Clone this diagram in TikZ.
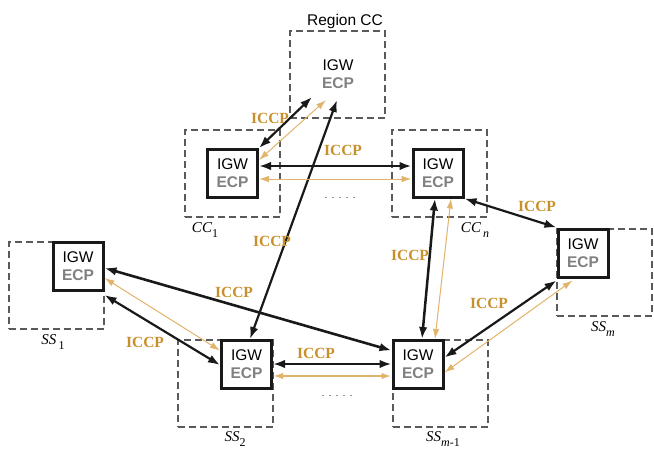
\documentclass[tikz,border=0pt]{standalone}
\usepackage{fontspec}
\setmainfont{Liberation Sans}
\newfontfamily\serifx{Liberation Serif}
\usetikzlibrary{arrows.meta,calc}
\definecolor{iccptext}{HTML}{C8902C}
\definecolor{iccpline}{HTML}{E2B36A}
\definecolor{ecpgray}{HTML}{808080}
\definecolor{dashgray}{HTML}{5A5A5A}
\tikzset{
  gw/.style={draw=black!90,line width=3pt,fill=white,minimum width=50pt,minimum height=48pt,inner sep=0pt,align=center,font=\fontsize{15.5}{19}\selectfont},
  gwfree/.style={minimum width=50pt,minimum height=48pt,inner sep=0pt,align=center,font=\fontsize{15.5}{19}\selectfont},
  region/.style={draw=dashgray,line width=2pt,dash pattern=on 7pt off 4pt,minimum width=95pt,minimum height=87pt,inner sep=0pt},
  blk/.style={line width=2.2pt,black!90,{Latex[length=12pt,width=8.5pt]}-{Latex[length=12pt,width=8.5pt]}},
  org/.style={line width=1pt,iccpline,{Latex[length=10pt,width=6.5pt]}-{Latex[length=10pt,width=6.5pt]}},
  iccp/.style={text=iccptext,font=\serifx\bfseries\fontsize{15.5}{18}\selectfont,inner sep=1pt},
  lbl/.style={font=\serifx\itshape\fontsize{15}{18}\selectfont,inner sep=0pt},
  dotsx/.style={font=\fontsize{9}{10}\selectfont,inner sep=0pt}
}
\newcommand{\gwtext}{IGW\\[-1pt]\textcolor{ecpgray}{\bfseries ECP}}
\begin{document}
\begin{tikzpicture}[x=1pt,y=-1pt]
\useasboundingbox (0,0) rectangle (654,451);
% dashed regions
\node[region] (rccreg) at (337.5,74.5) {};
\node[region] (cc1reg) at (232.5,173.5) {};
\node[region] (ccnreg) at (439.5,173.5) {};
\node[region] (ssmreg) at (604.5,272) {};
\node[region] (ss1reg) at (56.5,285) {};
\node[region] (ss2reg) at (225.5,383) {};
\node[region] (ssm1reg) at (440.5,383.5) {};
% region CC
\node[font=\fontsize{15.5}{18}\selectfont] (rcclabel) at (345,21) {Region CC};
\node[gwfree] (rcc) at (338,74) {\gwtext};
% gateway boxes
\node[gw] (cc1) at (232.5,173.5) {\gwtext};
\node[gw] (ccn) at (438,173) {\gwtext};
\node[gw] (ssm) at (583,253) {\gwtext};
\node[gw] (ss1) at (78,266) {\gwtext};
\node[gw] (ss2) at (246.5,364.5) {\gwtext};
\node[gw] (ssm1) at (418,364.5) {\gwtext};
% labels
\node[lbl] (lcc1) at (205,230) {CC\raisebox{-0.3em}{\upshape\fontsize{12}{12}\selectfont 1}};
\node[lbl] (lccn) at (475,230) {CC\raisebox{-0.3em}{\fontsize{12}{12}\selectfont\,n}};
\node[lbl] (lss1) at (53,342) {SS\raisebox{-0.3em}{\upshape\fontsize{12}{12}\selectfont\,1}};
\node[lbl] (lss2) at (235,439) {SS\raisebox{-0.3em}{\upshape\fontsize{12}{12}\selectfont 2}};
\node[lbl] (lssm1) at (443,439) {SS\raisebox{-0.3em}{\fontsize{12}{12}\selectfont m\upshape -1}};
\node[lbl] (lssm) at (603,329) {SS\raisebox{-0.3em}{\fontsize{12}{12}\selectfont m}};
\node[dotsx] (dots1) at (340,198) {.\hspace{4.5pt}.\hspace{4.5pt}.\hspace{4.5pt}.\hspace{4.5pt}.};
\node[dotsx] (dots2) at (337,396) {.\hspace{4.5pt}.\hspace{4.5pt}.\hspace{4.5pt}.\hspace{4.5pt}.};
% connectors
\draw[blk] (cc1.north east) -- ($(rcc.center)+(-26,23)$);
\draw[org] ($(cc1.north east)+(0,12)$) -- ($(rcc.center)+(-12,26)$);
\draw[blk] ($(ss2.north west)+(30,0)$) -- ($(rcc.center)+(-1,26)$);
\draw[blk] ($(cc1.east)+(0,-7.5)$) -- ($(ccn.west)+(0,-7)$);
\draw[org] ($(cc1.east)+(0,5.5)$) -- ($(ccn.west)+(0,6)$);
\draw[blk,line width=2.5pt] ($(ccn.south)+(-3,0)$) -- ($(ssm1.north)+(4,0)$);
\draw[org] ($(ccn.south)+(13,0)$) -- ($(ssm1.north)+(17,0)$);
\draw[blk] (ccn.south east) -- (ssm.north west);
\draw[blk] ($(ssm1.east)+(0,-7)$) -- ($(ssm.south west)+(0,2)$);
\draw[org] ($(ssm1.east)+(0,8)$) -- ($(ssm.south west)+(16,2)$);
\draw[blk,line width=2.6pt] ($(ss1.east)+(0,2)$) -- ($(ssm1.west)+(0,-14)$);
\draw[blk] ($(ss1.east)+(0,29)$) -- ($(ss2.west)+(0,0.5)$);
\draw[org] ($(ss1.east)+(0,12)$) -- ($(ss2.west)+(0,-14)$);
\draw[blk] ($(ss2.east)+(0,-0.5)$) -- ($(ssm1.west)+(0,-0.5)$);
\draw[org,line width=2pt] ($(ss2.east)+(0,11.5)$) -- ($(ssm1.west)+(0,11.5)$);
% ICCP labels
\node[iccp] (i1) at (270,118) {ICCP};
\node[iccp] (i2) at (343,150) {ICCP};
\node[iccp] (i3) at (272,241) {ICCP};
\node[iccp] (i4) at (410,255) {ICCP};
\node[iccp] (i5) at (537,206) {ICCP};
\node[iccp] (i6) at (489,303) {ICCP};
\node[iccp] (i7) at (234,292) {ICCP};
\node[iccp] (i8) at (145,342) {ICCP};
\node[iccp] (i9) at (316,353) {ICCP};
\end{tikzpicture}
\end{document}
